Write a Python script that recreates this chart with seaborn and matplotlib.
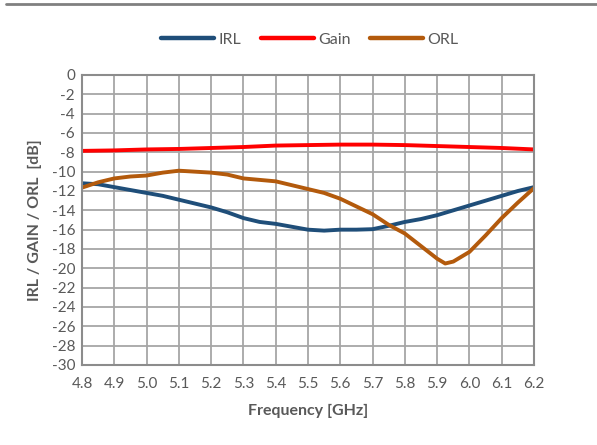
import matplotlib
matplotlib.use("Agg")
import matplotlib.pyplot as plt
import seaborn as sns
import pandas as pd
from matplotlib.lines import Line2D

freq_irl = [4.80, 4.85, 4.90, 4.95, 5.00, 5.05, 5.10, 5.15, 5.20, 5.25, 5.30, 5.35, 5.40, 5.45,
            5.50, 5.55, 5.60, 5.65, 5.70, 5.75, 5.80, 5.85, 5.90, 5.95, 6.00, 6.05, 6.10, 6.15, 6.20]
irl = [-11.2, -11.3, -11.6, -11.9, -12.2, -12.5, -12.9, -13.3, -13.7, -14.2, -14.8, -15.2, -15.4, -15.7,
       -16.0, -16.1, -16.0, -16.0, -15.95, -15.6, -15.2, -14.9, -14.5, -14.0, -13.5, -13.0, -12.5, -12.0, -11.6]

freq_gain = [4.8, 4.9, 5.0, 5.1, 5.2, 5.3, 5.4, 5.5, 5.6, 5.7, 5.8, 5.9, 6.0, 6.1, 6.2]
gain = [-7.85, -7.8, -7.7, -7.65, -7.55, -7.45, -7.3, -7.25, -7.2, -7.2, -7.25, -7.35, -7.45, -7.55, -7.7]

freq_orl = [4.80, 4.85, 4.90, 4.95, 5.00, 5.05, 5.10, 5.15, 5.20, 5.25, 5.30, 5.35, 5.40, 5.45,
            5.50, 5.55, 5.60, 5.65, 5.70, 5.75, 5.80, 5.85, 5.90, 5.925, 5.95, 6.00, 6.05, 6.10, 6.15, 6.20]
orl = [-11.65, -11.1, -10.7, -10.5, -10.4, -10.1, -9.9, -10.0, -10.1, -10.3, -10.7, -10.85, -11.0, -11.4,
       -11.8, -12.2, -12.8, -13.6, -14.4, -15.5, -16.4, -17.7, -19.0, -19.5, -19.3, -18.3, -16.6, -14.8, -13.2, -11.7]

x_ticks = [4.8, 4.9, 5.0, 5.1, 5.2, 5.3, 5.4, 5.5, 5.6, 5.7, 5.8, 5.9, 6.0, 6.1, 6.2]
y_ticks = list(range(0, -31, -2))

series_names = ["IRL", "Gain", "ORL"]
colors = {"IRL": "#1F4E79", "Gain": "#FF0000", "ORL": "#B35A0C"}

df = pd.concat([
    pd.DataFrame({"Frequency": freq_irl, "Value": irl, "Series": "IRL"}),
    pd.DataFrame({"Frequency": freq_gain, "Value": gain, "Series": "Gain"}),
    pd.DataFrame({"Frequency": freq_orl, "Value": orl, "Series": "ORL"}),
])

sns.set_style("white")
plt.rcParams["font.family"] = ["Lato", "DejaVu Sans"]

fig = plt.figure(figsize=(5.97, 4.45), dpi=100)
ax = fig.add_axes([82/597, 1-365/445, (534-82)/597, (365-75)/445])

sns.lineplot(data=df, x="Frequency", y="Value", hue="Series", hue_order=series_names,
             palette=colors, linewidth=2.8, ax=ax, legend=False, estimator=None, sort=True)

ax.set_xlim(4.8, 6.2)
ax.set_ylim(-30, 0)
ax.set_xticks(x_ticks)
ax.set_xticklabels([f"{t:.1f}" for t in x_ticks])
ax.set_yticks(y_ticks)
ax.set_yticklabels([str(t) for t in y_ticks])
ax.grid(True, color="#A6A6A6", linewidth=1.3)
ax.set_axisbelow(True)
for s in ax.spines.values():
    s.set_color("#8C8C8C")
    s.set_linewidth(1.5)
ax.tick_params(axis="both", length=0, labelsize=11, labelcolor="#595959", pad=5)
ax.tick_params(axis="x", pad=9)
ax.set_xlabel("Frequency [GHz]", fontsize=11.5, fontweight="bold", color="#595959", labelpad=9)
ax.set_ylabel("IRL / GAIN / ORL  [dB]", fontsize=11.5, fontweight="bold", color="#595959", labelpad=7)

handles = [Line2D([0], [0], color=colors[n], lw=3.2, solid_capstyle="round") for n in series_names]
fig.legend(handles, series_names, loc="center", bbox_to_anchor=(310/597, 1-40/445), ncol=3,
           frameon=False, fontsize=11.5, labelcolor="#595959", handlelength=3.3,
           handletextpad=0.3, columnspacing=1.2)

fig.add_artist(Line2D([6/597, 1.0], [1-4/445, 1-4/445], color="#808080", lw=2, transform=fig.transFigure))

fig.savefig("out.png", dpi=100)
